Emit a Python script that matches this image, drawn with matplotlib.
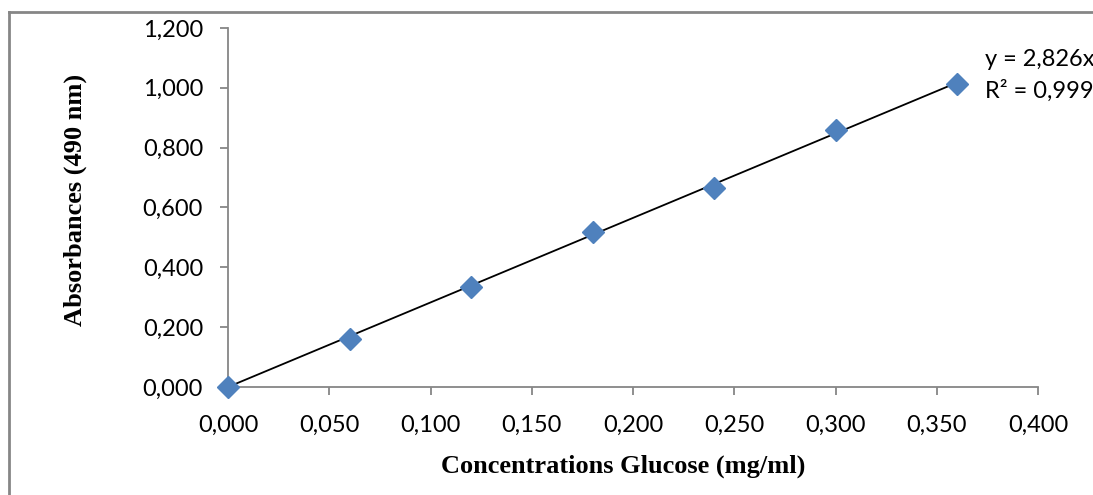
import matplotlib
matplotlib.use("Agg")
import matplotlib.pyplot as plt
from matplotlib.lines import Line2D
from matplotlib.ticker import FuncFormatter, MultipleLocator

conc = [0.000, 0.060, 0.120, 0.180, 0.240, 0.300, 0.360]
absorb = [0.000, 0.161, 0.334, 0.519, 0.666, 0.859, 1.013]
slope = 2.826
r2 = 0.999

fig = plt.figure(figsize=(10.93, 4.95), dpi=100)
ax = fig.add_axes([228/1093, 108/495, 810/1093, 359/495])

# trend line through origin
fit_x = [conc[0], conc[-1]]
fit_y = [slope*v for v in fit_x]
ax.plot(fit_x, fit_y, color="black", lw=1.3, zorder=2)
ax.plot(conc, absorb, ls="none", marker="D", ms=11, color="#4f81bd",
        markeredgecolor="#4f81bd", zorder=3, clip_on=False)

ax.set_xlim(0, 0.4)
ax.set_ylim(0, 1.2)
ax.xaxis.set_major_locator(MultipleLocator(0.05))
ax.yaxis.set_major_locator(MultipleLocator(0.2))
fmt = FuncFormatter(lambda v, p: f"{v:,.3f}".replace(".", ","))
ax.xaxis.set_major_formatter(fmt)
ax.yaxis.set_major_formatter(fmt)

for s in ["top", "right"]:
    ax.spines[s].set_visible(False)
for s in ["left", "bottom"]:
    ax.spines[s].set_color("#868686")
    ax.spines[s].set_linewidth(1.3)
ax.tick_params(direction="out", length=6, width=1.3, color="#868686",
               labelsize=17)
ax.tick_params(axis="x", pad=14)
ax.tick_params(axis="y", pad=12)
for lab in ax.get_xticklabels() + ax.get_yticklabels():
    lab.set_family("Lato")

ax.set_xlabel("Concentrations Glucose (mg/ml)", fontfamily="Liberation Serif",
              fontweight="bold", fontsize=19, va="center")
ax.set_ylabel("Absorbances (490 nm)", fontfamily="Liberation Serif",
              fontweight="bold", fontsize=19, va="center")
ax.xaxis.set_label_coords((623-228)/810, (387-466)/359)
ax.yaxis.set_label_coords((75-228)/810, (387-200)/359)

fig.text(985/1093, 1-60/495, f"y = {slope:.3f}x".replace(".", ","),
         fontfamily="Lato", fontsize=17, va="center", ha="left")
fig.text(985/1093, 1-91/495, f"R² = {r2:.3f}".replace(".", ","),
         fontfamily="Lato", fontsize=17, va="center", ha="left")

# outer chart frame
fig.add_artist(Line2D([9/1093, 9/1093], [0, 1-12/495], transform=fig.transFigure,
                      color="#868686", lw=2))
fig.add_artist(Line2D([9/1093, 1], [1-12/495, 1-12/495], transform=fig.transFigure,
                      color="#868686", lw=2))

fig.savefig("out.png", dpi=100)
